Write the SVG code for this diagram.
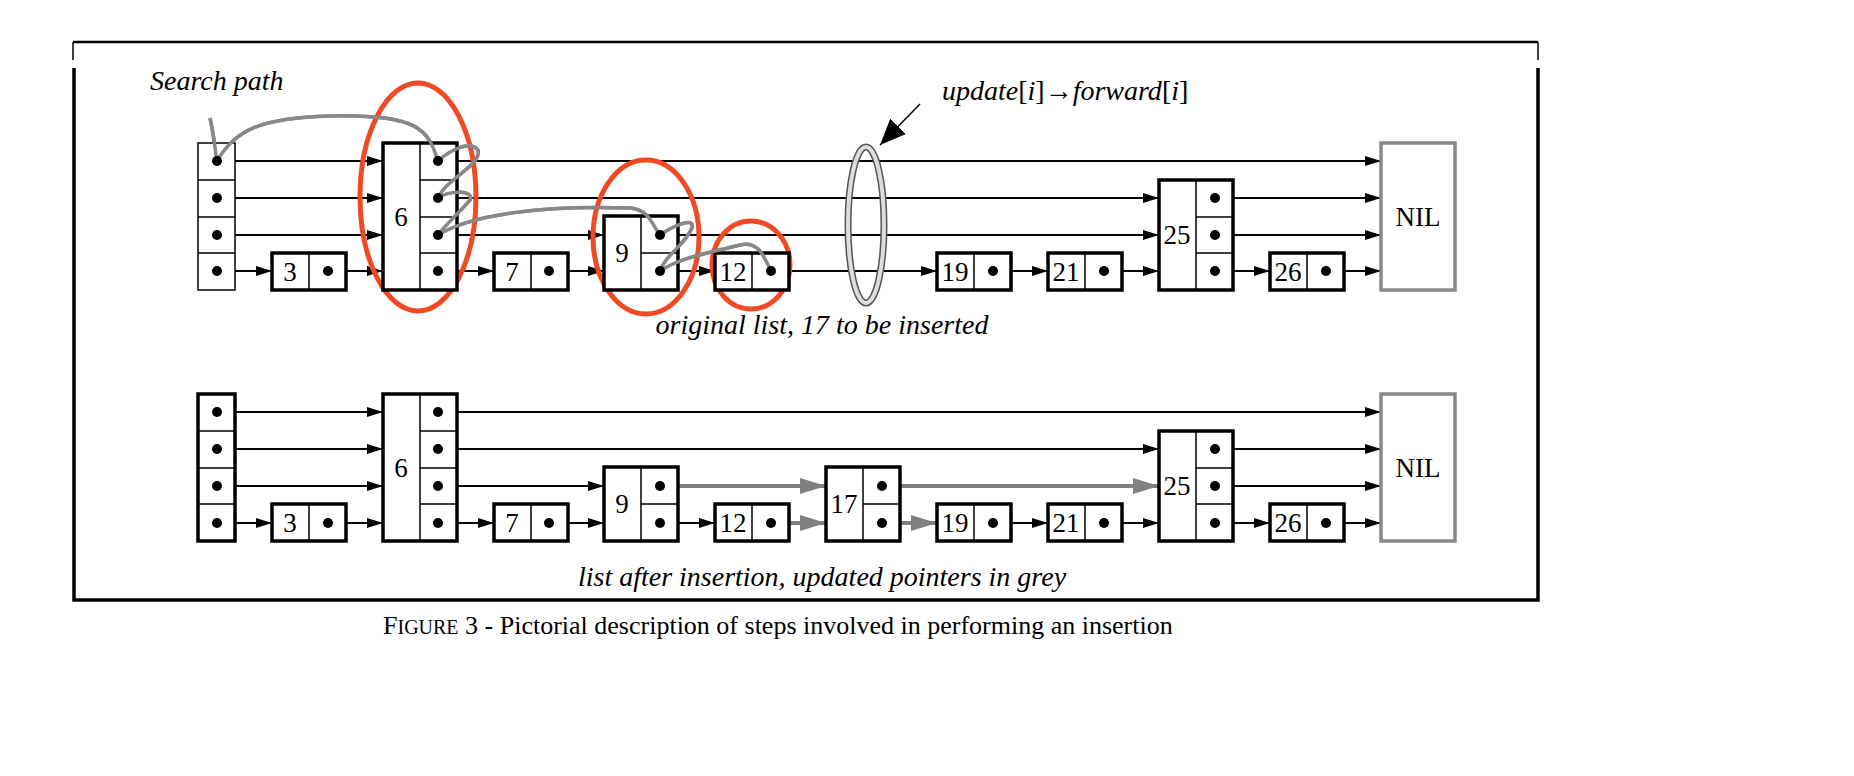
<svg xmlns="http://www.w3.org/2000/svg" width="1854" height="776" viewBox="0 0 1854 776">
<style>
.n{fill:#fff;stroke:#000;stroke-width:3.5}
.t{fill:#fff;stroke:#000;stroke-width:1.5}
.d{stroke:#000;stroke-width:1.5}
.l path{stroke:#000;stroke-width:2;fill:none;marker-end:url(#a)}
.g path{stroke:#808080;stroke-width:4;fill:none;marker-end:url(#ag)}
.sp{stroke:#888;stroke-width:3.5;fill:none}
.red{stroke:#f04a25;stroke-width:5;fill:none}
text{font-family:"Liberation Serif","Times New Roman",serif;fill:#000}
.lbl{font-size:27px;text-anchor:middle}
.it{font-style:italic;font-size:28px}
</style>
<defs>
<marker id="a" markerUnits="userSpaceOnUse" markerWidth="16" markerHeight="10" refX="16" refY="5" orient="auto"><path d="M0,0L16,5L0,10z" fill="#000"/></marker>
<marker id="ag" markerUnits="userSpaceOnUse" markerWidth="26" markerHeight="16" refX="26" refY="8" orient="auto"><path d="M0,0L26,8L0,16z" fill="#808080"/></marker>
<marker id="ab" markerUnits="userSpaceOnUse" markerWidth="26" markerHeight="22" refX="26" refY="11" orient="auto"><path d="M0,0L26,11L0,22z" fill="#000"/></marker>
</defs>
<rect width="1854" height="776" fill="#fff"/>
<g id="frame" fill="none" stroke="#000">
<path d="M73,42H1538" stroke-width="2.5"/>
<path d="M73,42V60M1538,42V60" stroke-width="1.5"/>
<path d="M74,68V600H1538V68" stroke-width="3.5"/>
</g>
<g id="connectors">
<g class="l">
<path d="M217,161H383"/><path d="M217,198H383"/><path d="M217,235H383"/><path d="M217,271H272"/><path d="M328,271H383"/><path d="M438,271H494"/><path d="M549,271H604"/><path d="M660,271H715"/><path d="M771,271H937"/><path d="M993,271H1048"/><path d="M1104,271H1159"/><path d="M1215,271H1270"/><path d="M1326,271H1381"/>
<path d="M438,161H1381"/><path d="M438,198H1159"/><path d="M1215,198H1381"/><path d="M438,235H604"/><path d="M660,235H1159"/><path d="M1215,235H1381"/>
<path d="M217,412H383"/><path d="M217,449H383"/><path d="M217,486H383"/><path d="M217,523H272"/><path d="M328,523H383"/><path d="M438,523H494"/><path d="M549,523H604"/><path d="M660,523H715"/><path d="M993,523H1048"/><path d="M1104,523H1159"/><path d="M1215,523H1270"/><path d="M1326,523H1381"/>
<path d="M438,412H1381"/><path d="M438,449H1159"/><path d="M1215,449H1381"/><path d="M438,486H604"/><path d="M1215,486H1381"/>
</g>
<g class="g"><path d="M660,486H826"/><path d="M771,523H826"/><path d="M882,486H1159"/><path d="M882,523H937"/></g>
<path class="sp" d="M210,118C214,135 215,150 217,161C235,130 260,118 330,116C420,114 428,130 438,161C450,150 470,140 478,150C482,165 445,180 438,198C450,190 475,190 470,200C462,210 445,225 438,235C470,215 540,205 630,208C650,210 652,225 660,235C670,228 695,215 692,228C685,245 665,255 660,271C680,258 700,255 740,245C760,240 765,260 771,271"/>
<path class="d" stroke-width="2.5" marker-end="url(#ab)" d="M920,104L880,145"/>
</g>
<g id="ellipses">
<ellipse class="red" cx="418" cy="197" rx="58" ry="114"/>
<ellipse class="red" cx="646" cy="237" rx="53" ry="77"/>
<ellipse class="red" cx="751" cy="265" rx="39" ry="44"/>
<ellipse cx="866" cy="225" rx="18" ry="78" fill="none" stroke="#555" stroke-width="7"/>
<ellipse cx="866" cy="225" rx="18" ry="78" fill="none" stroke="#ddd" stroke-width="4"/>
</g>
<g id="head1"><rect class="t" x="198" y="143" width="37" height="147"/><path class="d" d="M198,180H235M198,217H235M198,253H235"/></g>
<g id="n3a"><rect class="n" x="272" y="253" width="74" height="37"/><path class="d" d="M309,253V290"/><text class="lbl" x="290" y="281">3</text></g>
<g id="n6a"><rect class="n" x="383" y="143" width="74" height="147"/><path class="d" d="M420,143V290M420,180H457M420,217H457M420,253H457"/><text class="lbl" x="401" y="226">6</text></g>
<g id="n7a"><rect class="n" x="494" y="253" width="74" height="37"/><path class="d" d="M531,253V290"/><text class="lbl" x="512" y="281">7</text></g>
<g id="n9a"><rect class="n" x="604" y="216" width="74" height="74"/><path class="d" d="M641,216V290M641,253H678"/><text class="lbl" x="622" y="262">9</text></g>
<g id="n12a"><rect class="n" x="715" y="253" width="74" height="37"/><path class="d" d="M752,253V290"/><text class="lbl" x="733" y="281">12</text></g>
<g id="n19a"><rect class="n" x="937" y="253" width="74" height="37"/><path class="d" d="M974,253V290"/><text class="lbl" x="955" y="281">19</text></g>
<g id="n21a"><rect class="n" x="1048" y="253" width="74" height="37"/><path class="d" d="M1085,253V290"/><text class="lbl" x="1066" y="281">21</text></g>
<g id="n25a"><rect class="n" x="1159" y="180" width="74" height="110"/><path class="d" d="M1196,180V290M1196,217H1233M1196,253H1233"/><text class="lbl" x="1177" y="244">25</text></g>
<g id="n26a"><rect class="n" x="1270" y="253" width="74" height="37"/><path class="d" d="M1307,253V290"/><text class="lbl" x="1288" y="281">26</text></g>
<g id="nila"><rect x="1381" y="143" width="74" height="147" fill="#fff" stroke="#888" stroke-width="3.5"/><text class="lbl" x="1418" y="226">NIL</text></g>
<path class="sp" d="M210,118C214,135 215,150 217,161C235,130 260,118 330,116C420,114 428,130 438,161C450,150 470,140 478,150C482,165 445,180 438,198C450,190 475,190 470,200C462,210 445,225 438,235C470,215 540,205 630,208C650,210 652,225 660,235C670,228 695,215 692,228C685,245 665,255 660,271C680,258 700,255 740,245C760,240 765,260 771,271"/>
<g id="dots1" fill="#000">
<circle cx="217" cy="161" r="5"/><circle cx="217" cy="198" r="5"/><circle cx="217" cy="235" r="5"/><circle cx="217" cy="271" r="5"/>
<circle cx="328" cy="271" r="5"/><circle cx="438" cy="161" r="5"/><circle cx="438" cy="198" r="5"/><circle cx="438" cy="235" r="5"/><circle cx="438" cy="271" r="5"/>
<circle cx="549" cy="271" r="5"/><circle cx="660" cy="235" r="5"/><circle cx="660" cy="271" r="5"/><circle cx="771" cy="271" r="5"/>
<circle cx="993" cy="271" r="5"/><circle cx="1104" cy="271" r="5"/><circle cx="1215" cy="198" r="5"/><circle cx="1215" cy="235" r="5"/><circle cx="1215" cy="271" r="5"/><circle cx="1326" cy="271" r="5"/>
</g>
<g id="head2"><rect class="n" x="198" y="394" width="37" height="147"/><path class="d" d="M198,431H235M198,468H235M198,504H235"/></g>
<g id="n3b"><rect class="n" x="272" y="504" width="74" height="37"/><path class="d" d="M309,504V541"/><text class="lbl" x="290" y="532">3</text></g>
<g id="n6b"><rect class="n" x="383" y="394" width="74" height="147"/><path class="d" d="M420,394V541M420,431H457M420,468H457M420,504H457"/><text class="lbl" x="401" y="477">6</text></g>
<g id="n7b"><rect class="n" x="494" y="504" width="74" height="37"/><path class="d" d="M531,504V541"/><text class="lbl" x="512" y="532">7</text></g>
<g id="n9b"><rect class="n" x="604" y="467" width="74" height="74"/><path class="d" d="M641,467V541M641,504H678"/><text class="lbl" x="622" y="513">9</text></g>
<g id="n12b"><rect class="n" x="715" y="504" width="74" height="37"/><path class="d" d="M752,504V541"/><text class="lbl" x="733" y="532">12</text></g>
<g id="n17b"><rect class="n" x="826" y="467" width="74" height="74"/><path class="d" d="M863,467V541M863,504H900"/><text class="lbl" x="844" y="513">17</text></g>
<g id="n19b"><rect class="n" x="937" y="504" width="74" height="37"/><path class="d" d="M974,504V541"/><text class="lbl" x="955" y="532">19</text></g>
<g id="n21b"><rect class="n" x="1048" y="504" width="74" height="37"/><path class="d" d="M1085,504V541"/><text class="lbl" x="1066" y="532">21</text></g>
<g id="n25b"><rect class="n" x="1159" y="431" width="74" height="110"/><path class="d" d="M1196,431V541M1196,468H1233M1196,504H1233"/><text class="lbl" x="1177" y="495">25</text></g>
<g id="n26b"><rect class="n" x="1270" y="504" width="74" height="37"/><path class="d" d="M1307,504V541"/><text class="lbl" x="1288" y="532">26</text></g>
<g id="nilb"><rect x="1381" y="394" width="74" height="147" fill="#fff" stroke="#888" stroke-width="3.5"/><text class="lbl" x="1418" y="477">NIL</text></g>
<g id="dots2" fill="#000">
<circle cx="217" cy="412" r="5"/><circle cx="217" cy="449" r="5"/><circle cx="217" cy="486" r="5"/><circle cx="217" cy="523" r="5"/>
<circle cx="328" cy="523" r="5"/><circle cx="438" cy="412" r="5"/><circle cx="438" cy="449" r="5"/><circle cx="438" cy="486" r="5"/><circle cx="438" cy="523" r="5"/>
<circle cx="549" cy="523" r="5"/><circle cx="660" cy="486" r="5"/><circle cx="660" cy="523" r="5"/><circle cx="771" cy="523" r="5"/>
<circle cx="882" cy="486" r="5"/><circle cx="882" cy="523" r="5"/>
<circle cx="993" cy="523" r="5"/><circle cx="1104" cy="523" r="5"/><circle cx="1215" cy="449" r="5"/><circle cx="1215" cy="486" r="5"/><circle cx="1215" cy="523" r="5"/><circle cx="1326" cy="523" r="5"/>
</g>
<g id="labels">
<text class="it" x="150" y="90">Search path</text>
<text class="it" x="942" y="100">update<tspan font-style="normal">[</tspan>i<tspan font-style="normal">]→</tspan>forward<tspan font-style="normal">[</tspan>i<tspan font-style="normal">]</tspan></text>
<text class="it" x="822" y="334" text-anchor="middle">original list, 17 to be inserted</text>
<text class="it" x="822" y="586" text-anchor="middle">list after insertion, updated pointers in grey</text>
<text x="383" y="634" font-size="26">F<tspan font-size="20">IGURE</tspan> 3 - Pictorial description of steps involved in performing an insertion</text>
</g>
</svg>
